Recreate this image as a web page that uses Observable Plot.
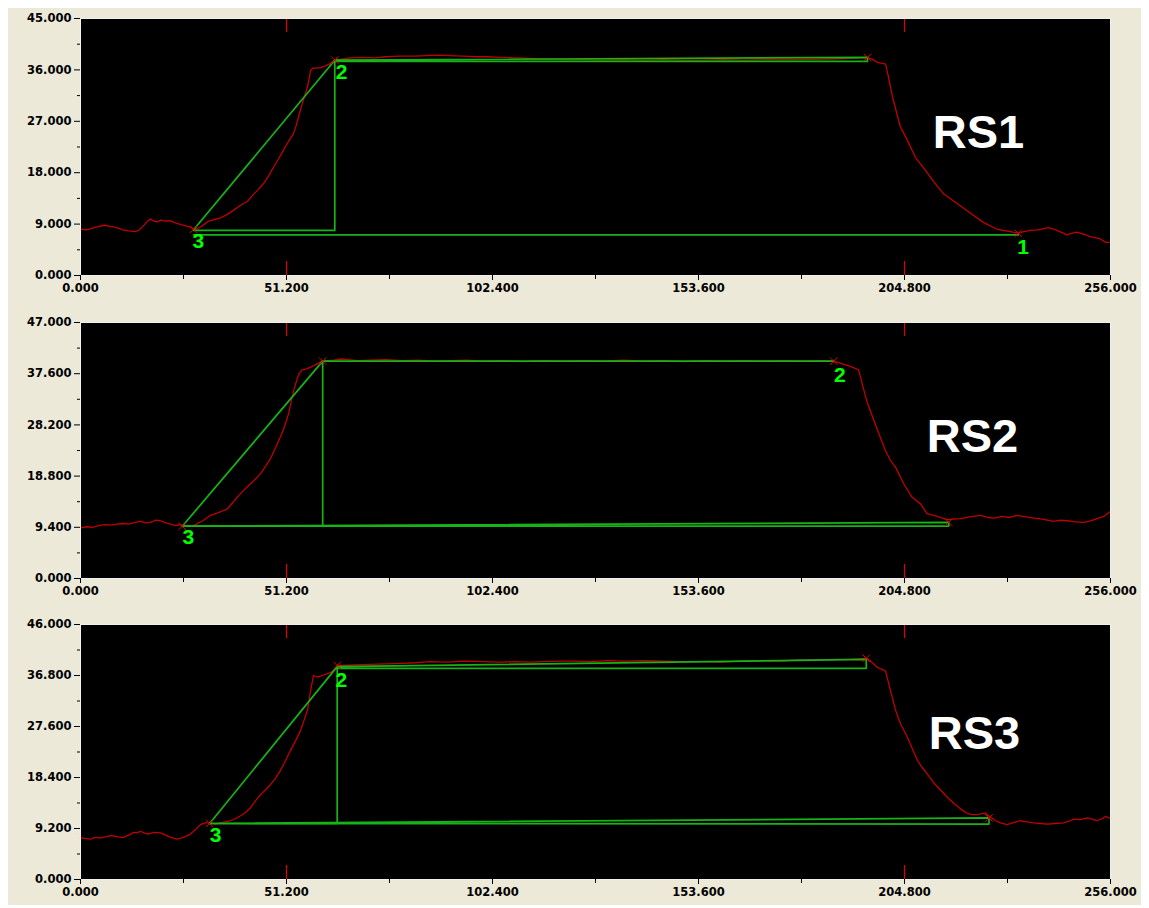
<!DOCTYPE html>
<html>
<head>
<meta charset="utf-8">
<script src="https://cdn.jsdelivr.net/npm/d3@7"></script>
<script src="https://cdn.jsdelivr.net/npm/@observablehq/plot@0.6"></script>
<style>
  html, body { margin: 0; padding: 0; background: #ffffff; }
  #backdrop { position: absolute; left: 8px; top: 8px; width: 1133px; height: 897px; background: #ECE9D8; }
  #charts svg { position: absolute; left: 0; }
</style>
</head>
<body>
<div id="backdrop"></div>
<div id="charts"></div>
<script>
// Shared x axis (sample index)
const xTicks = [0, 51.2, 102.4, 153.6, 204.8, 256];
const xMinorTicks = [25.6, 76.8, 128, 179.2, 230.4];
const cursorTicks = [51.2, 204.8];

// ---------- RS1 ----------
const rs1YTicks = [0, 9, 18, 27, 36, 45];
const rs1YMinor = [4.5, 13.5, 22.5, 31.5, 40.5];
const rs1Trace = [
  [0,8.1],[1.5,8.0],[3,8.3],[4.5,8.6],[6,8.8],[7.5,8.6],[9,8.4],[10.5,8.0],[12,7.8],[13.5,7.7],
  [14.5,7.9],[15.5,8.6],[16.5,9.4],[17.4,9.9],[18.3,9.5],[19.1,9.4],[20,9.7],[21.1,9.5],[22.3,9.6],
  [23.6,9.2],[25,8.9],[26.1,8.7],[27.2,8.5],[28.1,8.1],[29,8.2],[29.8,8.5],[30.8,9.0],[31.8,9.5],
  [33.2,9.8],[34.8,10.1],[36.5,10.7],[38,11.4],[39.8,12.3],[41.5,13.0],[43,14.2],[44,14.9],[45.5,16.1],
  [46.8,17.5],[48,19.0],[49.2,20.4],[50.4,21.9],[51.7,23.5],[52.9,24.8],[53.6,26.2],[54.2,27.8],
  [54.8,29.3],[55.4,30.7],[56.4,33.0],[56.9,34.8],[57.2,35.9],[57.7,36.3],[58.7,36.3],[59.7,36.4],
  [60.9,36.7],[62.1,37.1],[63.1,37.7],[65,37.9],[67.1,38.1],[70,38.2],[73,38.1],[76,38.3],[79.5,38.4],
  [83,38.4],[86,38.5],[89,38.6],[91.7,38.5],[95,38.4],[98,38.3],[101,38.3],[104.4,38.2],[108,38.1],
  [112,38.0],[116.8,37.9],[120,37.8],[125,37.8],[129.2,37.7],[135,37.8],[140,37.7],[145,37.8],
  [150,37.7],[154.1,37.7],[160,37.8],[165,37.7],[170,37.8],[175,37.8],[179,37.8],[185,37.9],
  [190,38.0],[195.6,38.2],[197,37.8],[198.1,37.3],[200.1,37.0],[200.8,34.8],[201.8,31.3],[203.1,27.8],
  [203.8,26.0],[205.5,23.7],[207.5,20.7],[210,18.4],[212.1,16.4],[214.5,14.3],[217.9,12.6],
  [221.2,10.9],[224.4,9.3],[227.8,8.1],[231.1,7.7],[233.1,7.4],[234.5,7.7],[236.1,7.9],[238,8.0],
  [240.6,8.4],[242.7,7.9],[245.2,7.1],[246.5,7.4],[247.6,7.6],[249.5,7.2],[251,6.8],[253.5,6.4],
  [254.8,5.8],[256,5.8]
];
const rs1Rise = [[28.1,8.0],[63.2,37.7],[63.2,7.9],[28.1,7.9]];
const rs1Plateau = [[63.2,37.7],[195.6,38.2],[195.6,37.5],[63.2,37.5]];
const rs1Base = [[28.1,7.1],[233.1,7.1]];
const rs1Anchors = [[28.1,8.1],[63.2,37.7],[195.6,38.2],[233.1,7.4]];
const rs1Labels = [["3",29.3,6.0],["2",64.9,35.6],["1",234.3,4.9]];
const rs1Title = ["RS1", 223.2, 24.9];

// ---------- RS2 ----------
const rs2YTicks = [0, 9.4, 18.8, 28.2, 37.6, 47];
const rs2YMinor = [4.7, 14.1, 23.5, 32.9, 42.3];
const rs2Trace = [
  [0,9.3],[1.5,9.5],[3,9.4],[4.5,9.7],[6,9.9],[7.5,9.8],[9,10.0],[10.5,10.1],[12,10.0],[13.5,10.3],
  [15,10.5],[16.2,10.2],[17.4,10.3],[18.6,10.7],[19.9,10.6],[21.2,10.2],[22.4,10.0],[23.6,9.7],
  [24.9,9.9],[25.6,9.5],[26.6,9.8],[27.6,9.6],[28.6,9.9],[30.4,10.6],[32.3,11.6],[34.3,12.1],
  [36.5,12.8],[37.8,13.9],[38.9,14.9],[40.2,15.9],[41.4,16.8],[43,17.9],[44.7,19.2],[46,20.6],
  [47.2,22.0],[48.1,23.4],[48.9,24.7],[49.8,26.2],[50.5,27.5],[51.2,29.0],[51.8,30.5],[52.4,32.6],
  [53.0,34.5],[53.7,36.3],[54.3,37.6],[55.1,38.3],[56.2,38.5],[57.2,38.8],[58.0,39.1],[58.8,39.4],
  [60.1,39.9],[61.5,40.0],[63.0,40.1],[64.6,40.3],[66.5,40.2],[68.8,40.0],[72,40.1],[76,40.2],
  [80,40.0],[84,40.1],[88,39.9],[92,40.0],[96,40.1],[100,39.9],[105,40.0],[110,39.8],[115,40.0],
  [120,39.9],[125,40.0],[130,39.9],[135,40.1],[140,39.9],[145,40.0],[150,39.8],[155,40.0],[160,39.9],
  [165,40.0],[170,39.9],[175,40.0],[180,39.9],[184,40.0],[187.2,39.9],[189,39.5],[191.5,38.9],
  [193.4,38.3],[194.3,35.7],[195.5,32.4],[197.2,29.0],[198.8,25.9],[200,23.6],[201.3,21.7],
  [202.6,20.4],[204.6,17.4],[206.7,14.9],[208.8,13.7],[210.4,11.9],[212.9,11.4],[215.4,10.8],
  [217,10.9],[218.7,11.0],[221,11.3],[223.7,11.6],[225.5,11.2],[227,11.1],[229,11.4],[231,11.2],
  [232.8,11.6],[235,11.3],[236.9,11.1],[239,10.9],[241.9,10.5],[243.5,10.7],[245.2,10.6],
  [247.5,10.4],[249.4,10.3],[251,10.6],[252.7,11.0],[254.3,11.4],[256,12.3]
];
const rs2Rise = [[25.3,9.6],[60.2,39.9],[60.2,9.7],[25.3,9.6]];
const rs2Plateau = [[60.2,39.9],[187.2,39.9]];
const rs2Base = [[25.3,9.6],[215.8,10.3],[215.8,9.6],[25.3,9.6]];
const rs2Anchors = [[25.3,9.6],[60.2,39.9],[187.2,39.9],[215.8,10.3]];
const rs2Labels = [["3",26.8,7.5],["2",188.7,37.4]];
const rs2Title = ["RS2", 221.7, 25.9];

// ---------- RS3 ----------
const rs3YTicks = [0, 9.2, 18.4, 27.6, 36.8, 46];
const rs3YMinor = [4.6, 13.8, 23, 32.2, 41.4];
const rs3Trace = [
  [0,7.5],[1.2,7.4],[2.5,7.3],[3.7,7.6],[5.0,7.5],[6.2,7.7],[7.5,7.9],[8.8,7.8],[10.0,7.6],[10.7,7.6],
  [12,8.0],[13.2,8.5],[14.0,8.4],[14.9,8.7],[15.8,8.4],[16.7,8.2],[18.2,8.5],[19.9,8.4],[21.2,8.0],
  [22.4,7.6],[23.3,7.4],[24.1,7.3],[25.6,7.6],[27.3,8.2],[28.6,9.0],[29.8,9.9],[31.0,10.2],[32.3,10.2],
  [33.5,10.0],[34.8,10.2],[36,10.4],[37.3,10.6],[38.6,11.0],[39.8,11.5],[41,12.1],[42.3,13.0],
  [43.5,14.2],[44.7,15.3],[46,16.2],[47.2,17.1],[48.5,18.3],[49.7,19.7],[51,21.5],[52.2,23.3],
  [53.5,25.1],[54.7,26.9],[55.6,28.8],[56.4,30.5],[56.8,32.3],[57.2,34.1],[57.6,35.6],[57.9,36.8],
  [58.9,36.5],[60.0,36.8],[60.9,37.0],[62.0,37.3],[62.9,37.7],[63.9,38.6],[65.1,38.6],[68,38.7],
  [72,38.8],[76,38.9],[80,39.0],[83.2,39.1],[87,39.3],[91,39.2],[95.6,39.4],[100,39.3],[104,39.2],
  [108,39.3],[111.7,39.2],[115,39.3],[119,39.4],[123.2,39.4],[127,39.3],[131,39.5],[135,39.4],
  [140.3,39.5],[145,39.4],[150,39.3],[155,39.3],[159.3,39.2],[164,39.4],[169,39.5],[174,39.4],
  [178.3,39.6],[183,39.6],[187.9,39.7],[191,39.7],[193.5,39.8],[195.5,39.9],[197,39.0],[198.0,38.3],
  [200.1,37.6],[201.3,34.1],[202.6,30.5],[203.8,28.1],[205.5,25.7],[206.8,23.5],[208.0,21.5],
  [209.2,20.2],[210.4,19.1],[212,17.5],[213.8,16.1],[215.5,14.8],[217.1,13.7],[218.8,12.7],
  [220.4,11.9],[221.7,11.7],[222.9,11.7],[224,11.9],[224.9,12.0],[226.2,11.2],[227.5,10.6],
  [228.7,10.2],[230.3,9.9],[232,10.3],[233.6,10.6],[235.2,10.4],[236.9,10.2],[238.5,10.1],
  [240.3,10.0],[242.3,10.1],[244.4,10.2],[246,10.6],[246.9,10.9],[248.5,10.8],[250.2,11.1],
  [251.5,10.9],[252.7,10.6],[254,11.0],[254.8,11.4],[256,11.0]
];
const rs3Rise = [[32.1,10.1],[63.8,38.4],[63.8,10.1],[32.1,10.1]];
const rs3Plateau = [[63.8,38.4],[195.3,39.7],[195.3,38.1],[63.8,38.1]];
const rs3Base = [[32.1,10.1],[225.8,11.1],[225.8,10.0],[32.1,10.1]];
const rs3Anchors = [[32.1,10.1],[63.8,38.6],[195.3,39.9],[225.8,11.1]];
const rs3Labels = [["3",33.6,7.9],["2",64.8,35.9]];
const rs3Title = ["RS3", 222.2, 26.2];

// Panel layout: pixel rows of each plotting frame on the page
const panels = [
  {frameTop: 18,  frameBottom: 275, yMax: 45, yTicks: rs1YTicks, yMinor: rs1YMinor, trace: rs1Trace,
   fit: [rs1Rise, rs1Plateau, rs1Base], anchors: rs1Anchors, labels: rs1Labels, title: rs1Title},
  {frameTop: 322, frameBottom: 578, yMax: 47, yTicks: rs2YTicks, yMinor: rs2YMinor, trace: rs2Trace,
   fit: [rs2Rise, rs2Plateau, rs2Base], anchors: rs2Anchors, labels: rs2Labels, title: rs2Title},
  {frameTop: 624, frameBottom: 879, yMax: 46, yTicks: rs3YTicks, yMinor: rs3YMinor, trace: rs3Trace,
   fit: [rs3Rise, rs3Plateau, rs3Base], anchors: rs3Anchors, labels: rs3Labels, title: rs3Title}
];

const fmt = d3.format(".3f");
const px = d => d[0], py = d => d[1];

function drawPanel(p) {
  const mt = 10, mb = 30;
  const h = p.frameBottom - p.frameTop;
  const svg = Plot.plot({
    width: 1149,
    height: mt + h + mb,
    marginTop: mt, marginBottom: mb, marginLeft: 80, marginRight: 39,
    style: {background: "transparent", fontFamily: "'DejaVu Sans', sans-serif", fontSize: "11.5px",
            fontWeight: "bold", color: "#000", overflow: "visible"},
    x: {domain: [0, 256], axis: null},
    y: {domain: [0, p.yMax], axis: null},
    marks: [
      Plot.frame({fill: "#000"}),
      // cursor markers at top and bottom of the frame
      Plot.ruleX(cursorTicks, {stroke: "#e00000", strokeWidth: 1.2, insetBottom: h - 14}),
      Plot.ruleX(cursorTicks, {stroke: "#e00000", strokeWidth: 1.2, insetTop: h - 14}),
      // measured response
      Plot.line(p.trace, {x: px, y: py, stroke: "#c00000", strokeWidth: 1.3}),
      // fitted rise / plateau / baseline construction
      ...p.fit.map(seg => Plot.line(seg, {x: px, y: py, stroke: "#16b416", strokeWidth: 1.7})),
      Plot.dot(p.anchors, {x: px, y: py, symbol: "times", r: 3.5, stroke: "#e00000", strokeWidth: 1}),
      Plot.text(p.labels, {x: d => d[1], y: d => d[2], text: d => d[0], fill: "#00ff00",
        fontSize: 21, fontWeight: "bold", fontFamily: "'Liberation Sans', Arial, sans-serif"}),
      Plot.text([p.title], {x: d => d[1], y: d => d[2], text: d => d[0], fill: "#ffffff",
        fontSize: 47, fontWeight: "bold", fontFamily: "'Liberation Sans', Arial, sans-serif"}),
      Plot.frame({stroke: "#f0f0f0", strokeWidth: 1}),
      Plot.axisX(xTicks, {tickFormat: fmt, tickSize: 5, tickPadding: 3, label: null}),
      Plot.axisX(xMinorTicks, {tickFormat: () => "", tickSize: 4, label: null}),
      Plot.axisY(p.yTicks, {tickFormat: fmt, tickSize: 6, tickPadding: 3, label: null}),
      Plot.axisY(p.yMinor, {tickFormat: () => "", tickSize: 3, label: null})
    ]
  });
  svg.style.top = (p.frameTop - mt) + "px";
  document.getElementById("charts").appendChild(svg);
}

panels.forEach(drawPanel);
</script>
</body>
</html>
